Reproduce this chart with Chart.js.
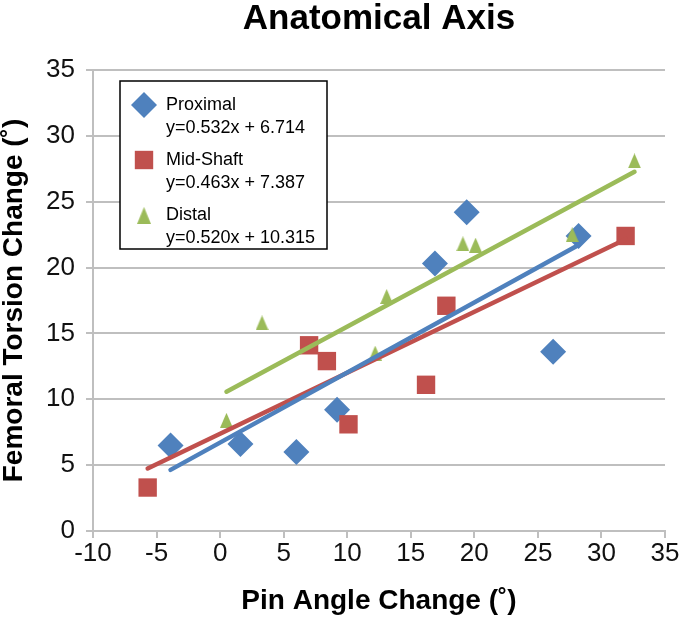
<!DOCTYPE html>
<html>
<head>
<meta charset="utf-8">
<script src="https://cdn.jsdelivr.net/npm/chart.js@4.4.1/dist/chart.umd.min.js"></script>
<style>
  html, body { margin: 0; padding: 0; background: #fff; }
  #wrap { width: 685px; height: 619px; position: relative; }
</style>
</head>
<body>
<div id="wrap"><canvas id="chart"></canvas></div>
<script>
const chartTitle = 'Anatomical Axis';
const xTitle = 'Pin Angle Change (˚)';
const yTitle = 'Femoral Torsion Change (˚)';

const seriesNames = ['Proximal', 'Mid-Shaft', 'Distal'];
const equations = ['y=0.532x + 6.714', 'y=0.463x + 7.387', 'y=0.520x + 10.315'];
const slopes = [0.532, 0.463, 0.520];
const intercepts = [6.714, 7.387, 10.315];

const proximalX = [-3.9, 1.6, 6.0, 9.2, 16.9, 19.4, 26.2, 28.2];
const proximalY = [6.5, 6.6, 6.0, 9.2, 20.3, 24.2, 13.6, 22.4];
const midShaftX = [-5.7, 7.0, 8.4, 10.1, 16.2, 17.8, 31.9];
const midShaftY = [3.3, 14.1, 12.9, 8.1, 11.1, 17.1, 22.4];
const distalX = [0.5, 3.3, 12.2, 13.1, 19.1, 20.1, 27.7, 32.6];
const distalY = [8.4, 15.8, 13.5, 17.8, 21.8, 21.7, 22.5, 28.1];

const xTicks = [-10, -5, 0, 5, 10, 15, 20, 25, 30, 35];
const yTicks = [0, 5, 10, 15, 20, 25, 30, 35];

const colors = ['#4f81bd', '#c0504d', '#9bbb59'];
const FONT = "'Liberation Sans', Arial, Helvetica, sans-serif";

function toPoints(xs, ys) {
  return xs.map((x, i) => ({ x, y: ys[i] }));
}

// trendline from the equation shown in the legend, over the series' x range
function trend(xs, i) {
  const lo = Math.min(...xs), hi = Math.max(...xs);
  return [
    { x: lo, y: slopes[i] * lo + intercepts[i] },
    { x: hi, y: slopes[i] * hi + intercepts[i] }
  ];
}

function triangleImage(color, w, h) {
  const c = document.createElement('canvas');
  c.width = w;
  c.height = h;
  const g = c.getContext('2d');
  g.fillStyle = color;
  g.beginPath();
  g.moveTo(w / 2, 0);
  g.lineTo(w, h);
  g.lineTo(0, h);
  g.closePath();
  g.fill();
  return c;
}

const triangle = triangleImage(colors[2], 13, 15);
const markers = [
  { pointStyle: 'rectRot', radius: 13 },
  { pointStyle: 'rect', radius: 13 },
  { pointStyle: triangle, radius: 8 }
];
const allX = [proximalX, midShaftX, distalX];

const datasets = [];
allX.forEach((xs, i) => {
  datasets.push({
    type: 'line',
    label: seriesNames[i] + ' trend',
    data: trend(xs, i),
    borderColor: colors[i],
    borderWidth: 4.5,
    borderCapStyle: 'round',
    pointRadius: 0,
    fill: false,
    order: i
  });
});
const scatterData = [
  toPoints(proximalX, proximalY),
  toPoints(midShaftX, midShaftY),
  toPoints(distalX, distalY)
];
const scatterOrder = [6, 5, 4];
scatterData.forEach((data, i) => {
  datasets.push({
    type: 'scatter',
    label: seriesNames[i],
    data,
    backgroundColor: colors[i],
    borderColor: colors[i],
    borderWidth: 0,
    pointStyle: markers[i].pointStyle,
    pointRadius: markers[i].radius,
    pointHoverRadius: markers[i].radius,
    order: scatterOrder[i]
  });
});

const boxPlugin = {
  id: 'boxLegend',
  afterDraw(chart) {
    const ctx = chart.ctx;
    const area = chart.chartArea;
    ctx.save();
    // title
    ctx.fillStyle = '#000';
    ctx.font = 'bold 35px ' + FONT;
    ctx.textAlign = 'center';
    ctx.textBaseline = 'alphabetic';
    ctx.fillText(chartTitle, (area.left + area.right) / 2, 29);

    // legend box
    ctx.fillStyle = '#fff';
    ctx.fillRect(120, 81, 207, 168);
    ctx.strokeStyle = '#000';
    ctx.lineWidth = 1.5;
    ctx.strokeRect(120, 81, 207, 168);

    const rows = [105, 160, 215];
    rows.forEach((cy, i) => {
      const m = markers[i];
      ctx.fillStyle = colors[i];
      if (i === 2) {
        ctx.drawImage(triangle, 144 - 7, cy - 8, 14, 17);
      } else {
        Chart.helpers.drawPoint(ctx, { pointStyle: m.pointStyle, radius: m.radius, rotation: 0, borderWidth: 0 }, 144, cy);
      }
      ctx.fillStyle = '#000';
      ctx.font = '18px ' + FONT;
      ctx.textAlign = 'left';
      ctx.fillText(seriesNames[i], 166, cy + 4.5);
      ctx.fillText(equations[i], 166, cy + 27.5);
    });
    ctx.restore();
  }
};

new Chart(document.getElementById('chart'), {
  data: { datasets },
  plugins: [boxPlugin],
  options: {
    responsive: true,
    maintainAspectRatio: false,
    animation: false,
    layout: { padding: { top: 70, right: 20, bottom: 0, left: 0 } },
    plugins: {
      legend: { display: false },
      title: { display: false },
      tooltip: { enabled: false }
    },
    scales: {
      x: {
        type: 'linear',
        min: -10,
        max: 35,
        afterBuildTicks: s => { s.ticks = xTicks.map(v => ({ value: v })); },
        afterFit: s => { s.height = 88; s.paddingLeft = 0; s.paddingRight = 0; },
        grid: { drawOnChartArea: false, drawTicks: true, tickLength: 7, color: '#bfbfbf', lineWidth: 2 },
        border: { display: true, color: '#bfbfbf', width: 2 },
        ticks: { color: '#111', font: { family: FONT, size: 26 }, padding: 0, maxRotation: 0 },
        title: {
          display: true,
          text: xTitle,
          color: '#000',
          font: { family: FONT, size: 28, weight: 'bold', lineHeight: 1.0 },
          padding: { top: 0, bottom: 4 }
        }
      },
      y: {
        type: 'linear',
        min: 0,
        max: 35,
        afterBuildTicks: s => { s.ticks = yTicks.map(v => ({ value: v })); },
        afterFit: s => { s.width = 93; s.paddingTop = 0; s.paddingBottom = 0; },
        grid: { color: '#bfbfbf', lineWidth: 2, drawTicks: true, tickLength: 7 },
        border: { display: true, color: '#bfbfbf', width: 2 },
        ticks: { color: '#111', font: { family: FONT, size: 26 }, padding: 11 },
        title: {
          display: true,
          text: yTitle,
          color: '#000',
          font: { family: FONT, size: 28, weight: 'bold', lineHeight: 1.0 },
          padding: { top: 0, bottom: 0 }
        }
      }
    }
  }
});
</script>
</body>
</html>
